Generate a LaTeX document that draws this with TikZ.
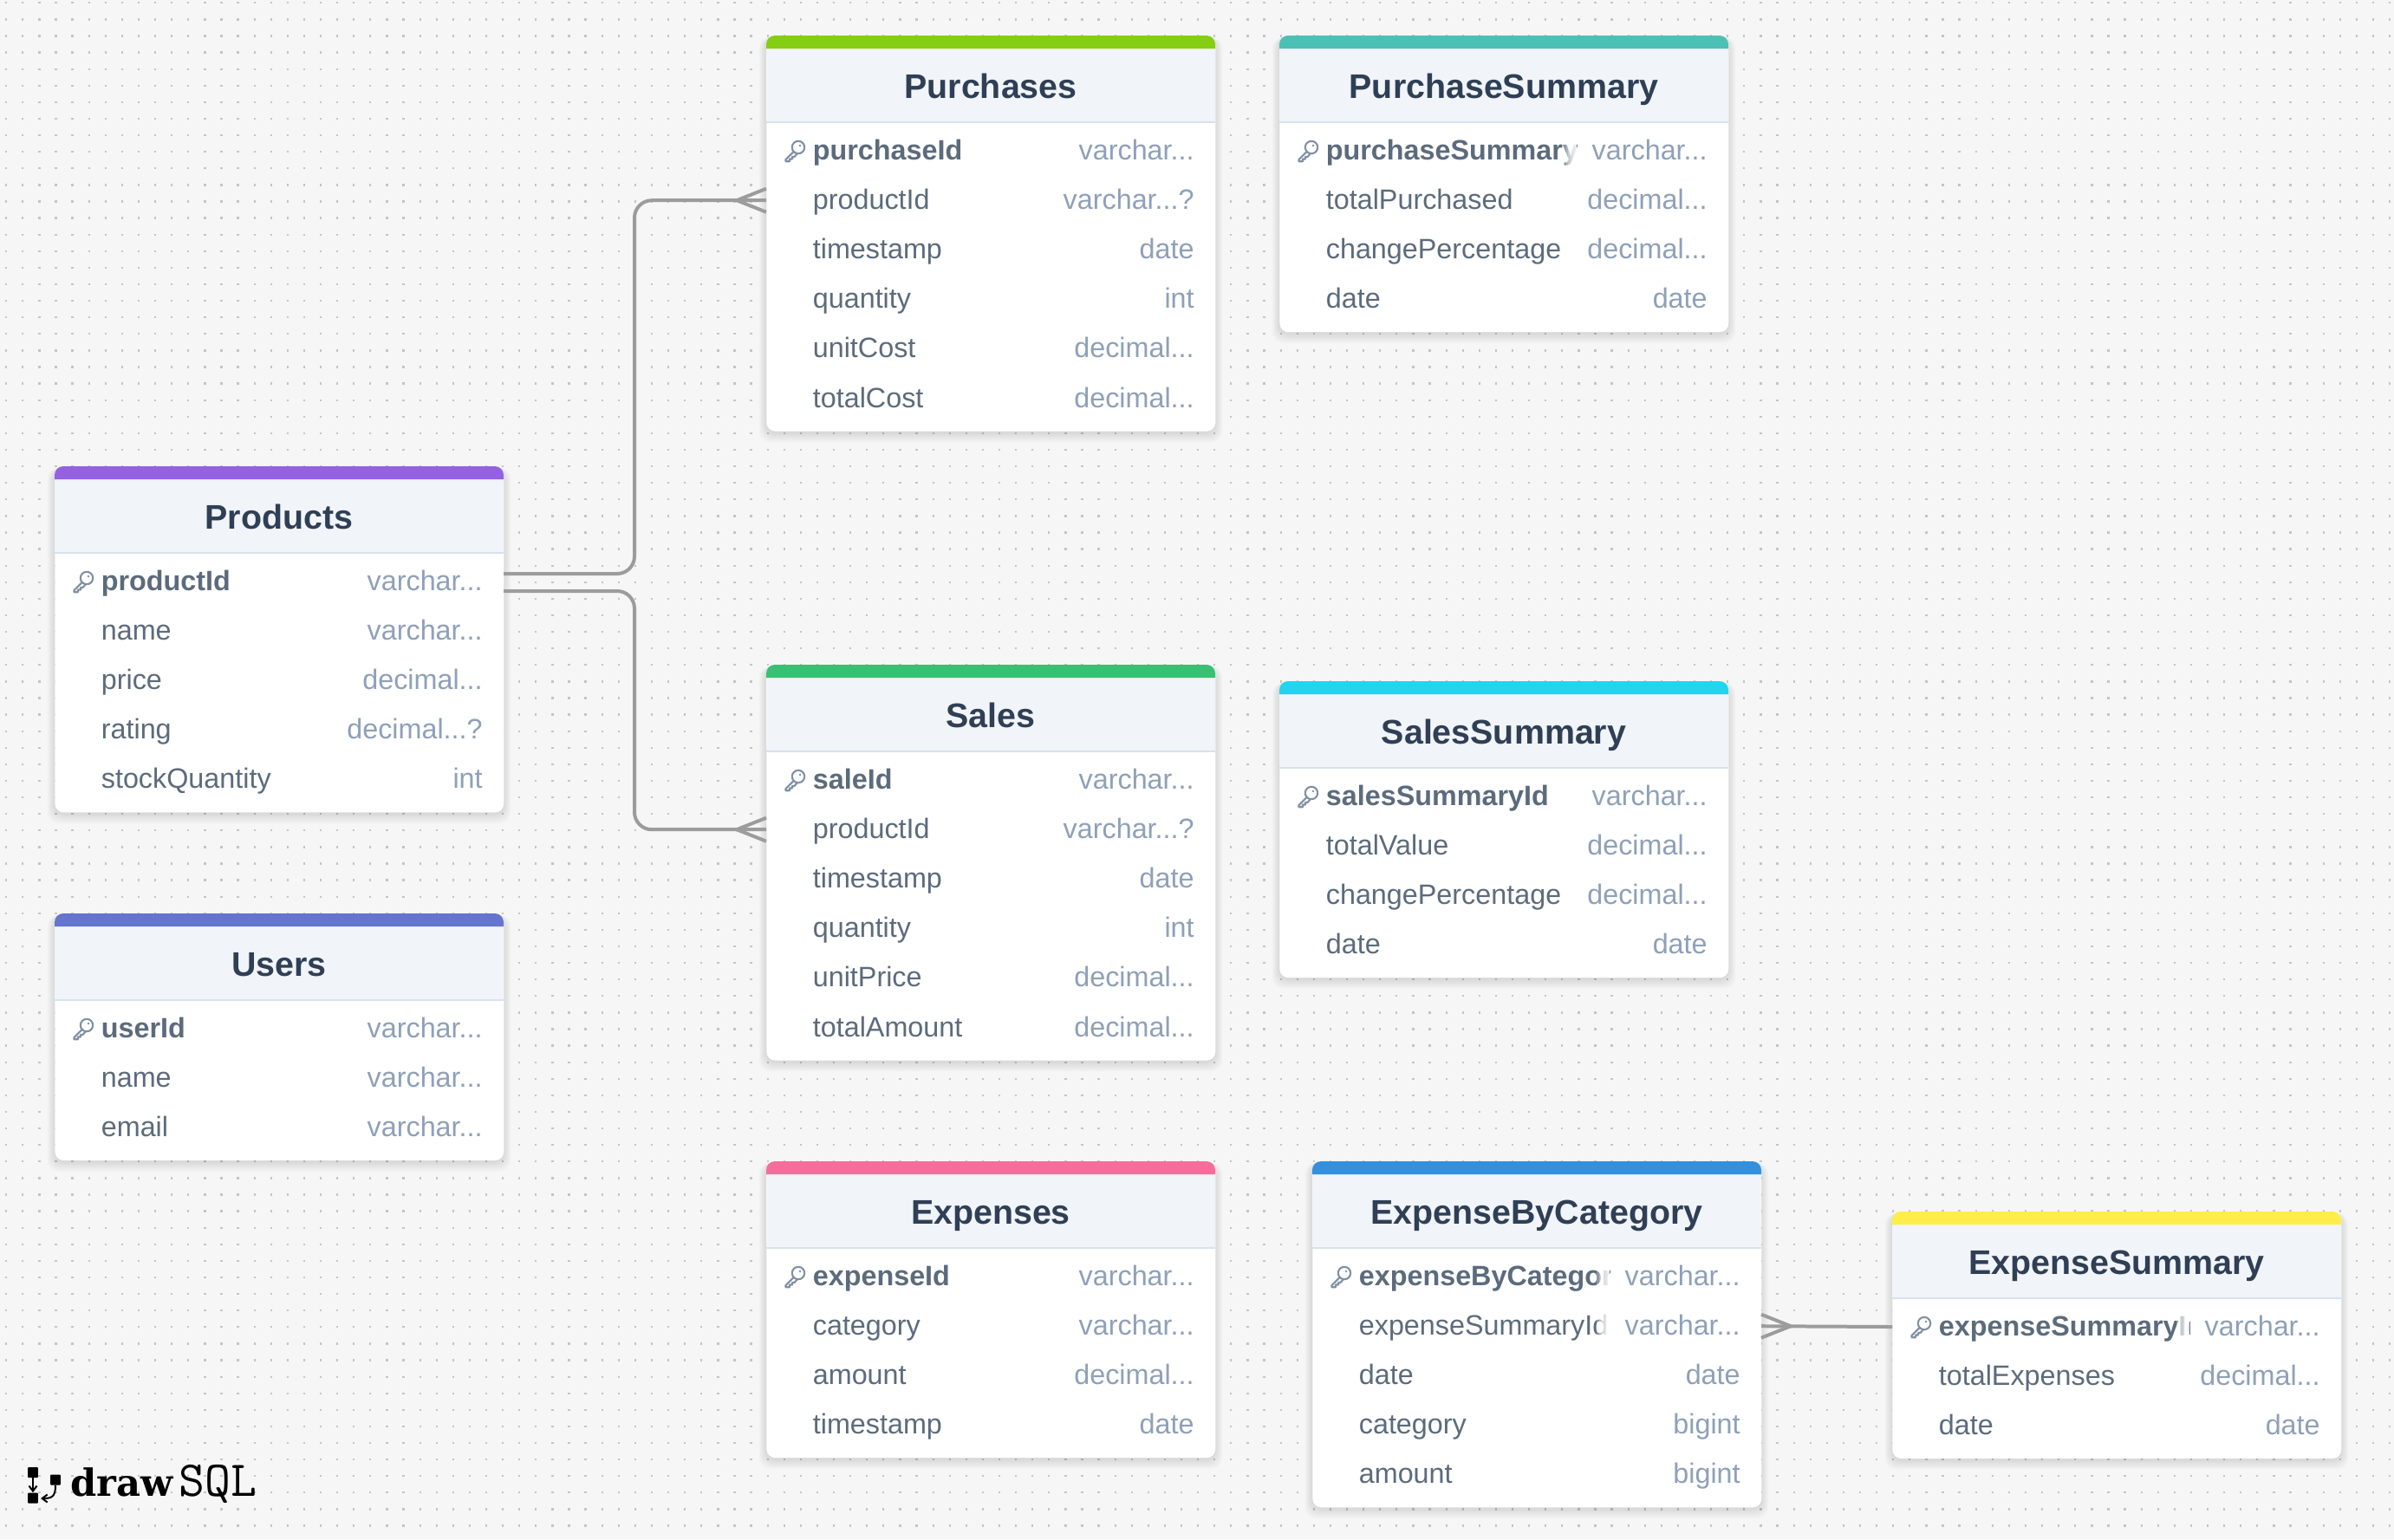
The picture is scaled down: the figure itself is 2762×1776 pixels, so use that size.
\documentclass[tikz,border=0pt]{standalone}
\usepackage{fontspec}
\setmainfont{Liberation Sans}
\newfontfamily\logoserif{DejaVu Serif}
\usetikzlibrary{arrows.meta,calc}
\definecolor{bgpage}{HTML}{F6F6F6}
\definecolor{dotc}{HTML}{C4C4C4}
\definecolor{headc}{HTML}{F1F4F9}
\definecolor{headl}{HTML}{D8E2EE}
\definecolor{titlec}{HTML}{2F3F55}
\definecolor{namec}{HTML}{5C6B7C}
\definecolor{typec}{HTML}{8FA0B8}
\definecolor{keyc}{HTML}{8090A2}
\definecolor{linkc}{HTML}{9C9C9C}
\definecolor{cpurple}{HTML}{9561E2}
\definecolor{cgreen}{HTML}{38C172}
\definecolor{clime}{HTML}{85CE13}
\definecolor{cteal}{HTML}{4DC0B5}
\definecolor{ccyan}{HTML}{1FD6EE}
\definecolor{cindigo}{HTML}{6574CD}
\definecolor{cpink}{HTML}{F66D9B}
\definecolor{cblue}{HTML}{3490DC}
\definecolor{cyellow}{HTML}{FFED4A}
\newcommand\dd{.\kern0pt.\kern0pt.}
\newcommand\vc{varchar\dd}
\newcommand\dc{decimal\dd}
\newcommand\rowsize{\fontsize{18.4}{20}\selectfont}
\tikzset{
  tablebody/.style={fill=white,rounded corners=.2cm,inner sep=0pt,anchor=north west,minimum width=10.36cm},
  tabletitle/.style={anchor=base,inner sep=0pt,text=titlec,font=\fontsize{22.4}{24}\selectfont\bfseries},
  fieldname/.style={anchor=base west,inner sep=0pt,text=namec,font=\rowsize},
  fieldtype/.style={anchor=base east,inner sep=0pt,text=typec,font=\rowsize,fill=white,text height=.54cm,text depth=.3cm},
  link/.style={draw=linkc,line width=.08cm,rounded corners=.4cm},
  crow/.style={draw=linkc,line width=.08cm},
  logosq/.style={fill=black,inner sep=0pt,minimum size=.24cm,rounded corners=.02cm},
  logoarrow/.style={draw=black,line width=.04cm,-{Straight Barb[length=.12cm,width=.18cm]}}
}
% id, x, y, colour, title, number of rows, rows name/type
\newcommand\dbtable[7]{%
  \pgfmathsetmacro\hh{(113+57.2*#6)*0.02}
  \pgfmathsetmacro\bott{#3+113+57.2*#6}
  \foreach \k in {1,...,7}{
    \fill[black,opacity=.014,rounded corners=.26cm]
      (#2-\k*1.2,#3+2) rectangle (#2+518+\k*1.2,\bott+2+\k*1.6);
  }
  \node[tablebody,minimum height=\hh cm] (#1) at (#2,#3) {};
  \fill[headc] (#2,#3+14) rectangle (#2+518,#3+100);
  \draw[headl,line width=.03cm] (#2,#3+100) -- (#2+518,#3+100);
  \fill[#4] (#2,#3+15) {[rounded corners=.2cm] -- (#2,#3) -- (#2+518,#3)} -- (#2+518,#3+15) -- cycle;
  \node[tabletitle] (#1-title) at (#2+259,#3+72) {#5};
  \foreach \fname/\ftype [count=\i] in {#7}{
    \pgfmathsetmacro\ry{#3+133+57.2*(\i-1)}
    \coordinate (#1-\i l) at (#2,\ry);
    \coordinate (#1-\i r) at (#2+518,\ry);
    \ifnum\i=1
      \node[fieldname,font=\rowsize\bfseries] (#1-\i n) at (#2+53.5,\ry+10) {\fname};
      \begin{scope}[shift={(#2+22,\ry)},draw=keyc,line width=.042cm,line join=round,line cap=round]
        \draw (15,-4) circle[radius=7.2];
        \fill[keyc] (17,-6) circle[radius=1.4];
        \draw (9.8,0.8) -- (0.5,10) -- (0.5,12.2) -- (5,12.2) -- (5,9.5) -- (8,9.5) -- (8,7) -- (10.5,7) -- (13.8,3.2);
      \end{scope}
    \else
      \node[fieldname] (#1-\i n) at (#2+53.5,\ry+10) {\fname};
    \fi
    \node[fieldtype] (#1-\i t) at (#2+494,\ry+10) {\hspace*{.34cm}\ftype};
    \foreach \f in {1,...,6}{
      \fill[white,opacity=.3] ([xshift=-\f*.05cm]#1-\i t.north west) rectangle (#1-\i t.south west);
    }
  }
}
\begin{document}
\begin{tikzpicture}[x=.02cm,y=-.02cm]
\useasboundingbox (0,0) rectangle (2762,1776);
\fill[bgpage] (0,0) rectangle (2762,1776);
\foreach \k in {0,...,92}{
  \draw[dotc,line width=.045cm,dash pattern=on .045cm off .337cm] (6.1,3.3+19.1*\k) -- (2762,3.3+19.1*\k);
}
\dbtable{Purchases}{884}{41}{clime}{Purchases}{6}{purchaseId/\vc,productId/\vc?,timestamp/date,quantity/int,unitCost/\dc,totalCost/\dc}
\dbtable{PurchaseSummary}{1476}{41}{cteal}{PurchaseSummary}{4}{purchaseSummaryId/\vc,totalPurchased/\dc,changePercentage/\dc,date/date}
\dbtable{Products}{63}{538}{cpurple}{Products}{5}{productId/\vc,name/\vc,price/\dc,rating/\dc?,stockQuantity/int}
\dbtable{Sales}{884}{767}{cgreen}{Sales}{6}{saleId/\vc,productId/\vc?,timestamp/date,quantity/int,unitPrice/\dc,totalAmount/\dc}
\dbtable{SalesSummary}{1476}{786}{ccyan}{SalesSummary}{4}{salesSummaryId/\vc,totalValue/\dc,changePercentage/\dc,date/date}
\dbtable{Users}{63}{1054}{cindigo}{Users}{3}{userId/\vc,name/\vc,email/\vc}
\dbtable{Expenses}{884}{1340}{cpink}{Expenses}{4}{expenseId/\vc,category/\vc,amount/\dc,timestamp/date}
\dbtable{ExpenseByCategory}{1514}{1340}{cblue}{ExpenseByCategory}{5}{expenseByCategoryId/\vc,expenseSummaryId/\vc,date/date,category/bigint,amount/bigint}
\dbtable{ExpenseSummary}{2183}{1398}{cyellow}{ExpenseSummary}{3}{expenseSummaryId/\vc,totalExpenses/\dc,date/date}
% connectors
\coordinate (busx) at (732,0);
\draw[link] ([yshift=.18cm]Products-1r) -| (busx |- Purchases-2l) -- (Purchases-2l);
\draw[link] ([yshift=-.22cm]Products-1r) -| (busx |- Sales-2l) -- (Sales-2l);
\draw[crow] ([yshift=.27cm]Purchases-2l) -- ([xshift=-.68cm]Purchases-2l) -- ([yshift=-.27cm]Purchases-2l);
\draw[crow] ([yshift=.27cm]Sales-2l) -- ([xshift=-.68cm]Sales-2l) -- ([yshift=-.27cm]Sales-2l);
\draw[crow] (ExpenseSummary-1l) -- (ExpenseByCategory-2r);
\draw[crow] ([yshift=.27cm]ExpenseByCategory-2r) -- ([xshift=.68cm]ExpenseByCategory-2r) -- ([yshift=-.27cm]ExpenseByCategory-2r);
% logo
\node[logosq] (logoa) at (38,1699) {};
\node[logosq] (logob) at (38,1728.5) {};
\node[logosq] (logoc) at (64,1707.5) {};
\draw[logoarrow] (logoa) -- (logob);
\draw[logoarrow] (logoc.south) .. controls (64,1727) and (60,1729) .. (47,1729);
\node[anchor=base west,inner sep=0pt,font={\logoserif\bfseries\fontsize{24.6}{26}\selectfont}] (logodraw) at (81,1726.5) {draw};
\node[anchor=base west,inner sep=0pt,font={\ttfamily\fontsize{33}{35}\selectfont}] (logosql) at (206,1726.5) {SQL};
\end{tikzpicture}
\end{document}
